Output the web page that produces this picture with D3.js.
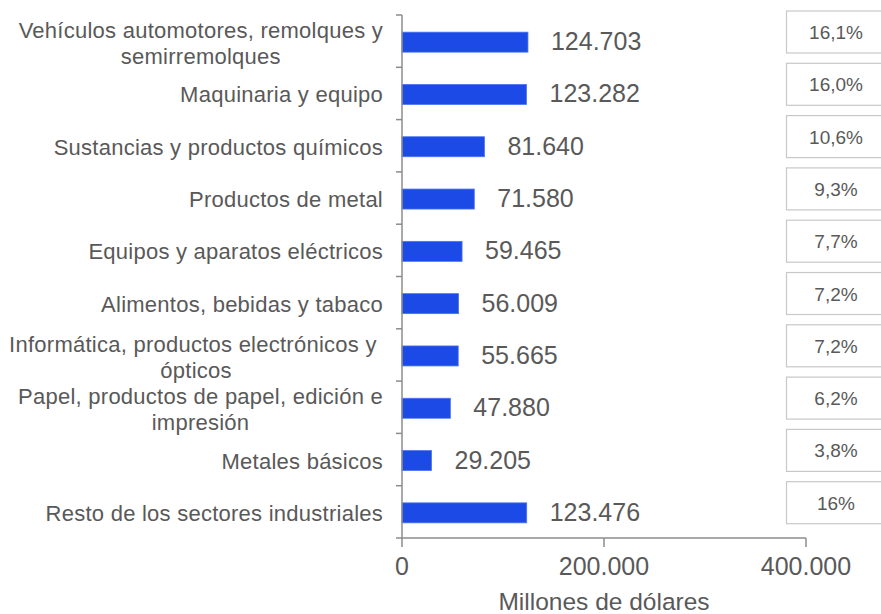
<!DOCTYPE html>
<html>
<head>
<meta charset="utf-8">
<script src="https://cdn.jsdelivr.net/npm/d3@7"></script>
<style>
  html, body { margin: 0; padding: 0; background: #fff; }
  svg { display: block; font-family: "Liberation Sans", Arial, sans-serif; }
  .cat text { white-space: pre; }
</style>
</head>
<body>
<svg id="chart" width="881" height="614"></svg>
<script>
// Sector labels (one entry per line of text)
const categories = [
  ["Vehículos automotores, remolques y", "semirremolques"],
  ["Maquinaria y equipo"],
  ["Sustancias y productos químicos"],
  ["Productos de metal"],
  ["Equipos y aparatos eléctricos"],
  ["Alimentos, bebidas y tabaco"],
  ["Informática, productos electrónicos y ", "ópticos"],
  ["Papel, productos de papel, edición e", "impresión"],
  ["Metales básicos"],
  ["Resto de los sectores industriales"]
];
// Value in millions of dollars
const values = [124703, 123282, 81640, 71580, 59465, 56009, 55665, 47880, 29205, 123476];
// Share of total
const shares = ["16,1%", "16,0%", "10,6%", "9,3%", "7,7%", "7,2%", "7,2%", "6,2%", "3,8%", "16%"];
const xTicks = [0, 200000, 400000];
const xTitle = "Millones de dólares";

const locale = d3.formatLocale({ decimal: ",", thousands: ".", grouping: [3], currency: ["$", ""] });
const fmt = locale.format(",d");

const svg = d3.select("#chart");
const textColor = "#595959";
const axisColor = "#8c8c8c";
const barColor = "#1b4ae6";

const keys = categories.map((c, i) => i);
const x = d3.scaleLinear().domain([0, 400000]).range([402, 806]);
const y = d3.scaleBand().domain(keys).range([15, 538]).padding(0);
const barH = 20;

// bars
svg.append("g").selectAll("rect").data(keys).join("rect")
  .attr("x", x(0))
  .attr("y", d => y(d) + y.bandwidth() / 2 - barH / 2 + 1)
  .attr("width", d => x(values[d]) - x(0))
  .attr("height", barH)
  .attr("fill", barColor)
  .attr("stroke", "#4d74f0")
  .attr("stroke-width", 0.8);

// value labels
svg.append("g").selectAll("text").data(keys).join("text")
  .attr("x", d => x(values[d]) + 23)
  .attr("y", d => y(d) + y.bandwidth() / 2 + 9)
  .attr("font-size", 25)
  .attr("fill", textColor)
  .text(d => fmt(values[d]));

// y axis line and ticks at band edges
const yAxis = svg.append("g");
yAxis.append("line")
  .attr("x1", x(0)).attr("x2", x(0))
  .attr("y1", y.range()[0]).attr("y2", y.range()[1])
  .attr("stroke", axisColor).attr("stroke-width", 1.5);
const edges = keys.map(k => y(k)).concat([y.range()[1]]);
yAxis.selectAll("line.tick").data(edges).join("line")
  .attr("class", "tick")
  .attr("x1", x(0) - 6).attr("x2", x(0))
  .attr("y1", d => d).attr("y2", d => d)
  .attr("stroke", axisColor).attr("stroke-width", 1.5);

// category labels: block right-aligned, lines centered within the block
const labelRight = 383;
const lineH = 26;
const labels = svg.append("g").attr("class", "cat")
  .attr("font-size", 22).attr("letter-spacing", 0.25).attr("fill", textColor);
keys.forEach(k => {
  const lines = categories[k];
  const g = labels.append("g");
  const cy = y(k) + y.bandwidth() / 2;
  const texts = lines.map((ln, j) => g.append("text")
    .attr("y", cy + (j - (lines.length - 1) / 2) * lineH + 9 + (lines.length > 1 ? 1 : 0))
    .text(ln));
  const widths = texts.map(t => t.node().getComputedTextLength());
  const w = d3.max(widths);
  const center = labelRight - w / 2;
  texts.forEach(t => t.attr("x", center).attr("text-anchor", "middle"));
});

// x axis
const xAxisY = y.range()[1];
const xAxis = svg.append("g");
xAxis.append("line")
  .attr("x1", x(0)).attr("x2", x(400000))
  .attr("y1", xAxisY).attr("y2", xAxisY)
  .attr("stroke", axisColor).attr("stroke-width", 1.5);
xAxis.selectAll("line.tick").data(xTicks).join("line")
  .attr("class", "tick")
  .attr("x1", d => x(d)).attr("x2", d => x(d))
  .attr("y1", xAxisY).attr("y2", xAxisY + 9)
  .attr("stroke", axisColor).attr("stroke-width", 1.5);
xAxis.selectAll("text").data(xTicks).join("text")
  .attr("x", d => x(d))
  .attr("y", xAxisY + 37)
  .attr("text-anchor", "middle")
  .attr("font-size", 25)
  .attr("fill", textColor)
  .text(d => fmt(d));
svg.append("text")
  .attr("x", x(200000))
  .attr("y", 610)
  .attr("text-anchor", "middle")
  .attr("font-size", 24.5)
  .attr("fill", textColor)
  .text(xTitle);

// share boxes
const boxes = svg.append("g");
keys.forEach(k => {
  const top = y(k) - 4;
  boxes.append("rect")
    .attr("x", 786.5).attr("y", top)
    .attr("width", 100).attr("height", 42)
    .attr("fill", "#fff")
    .attr("stroke", "#c8c8c8").attr("stroke-width", 1.2);
  boxes.append("text")
    .attr("x", 836).attr("y", top + 28)
    .attr("text-anchor", "middle")
    .attr("font-size", 19)
    .attr("fill", textColor)
    .text(shares[k]);
});
</script>
</body>
</html>
